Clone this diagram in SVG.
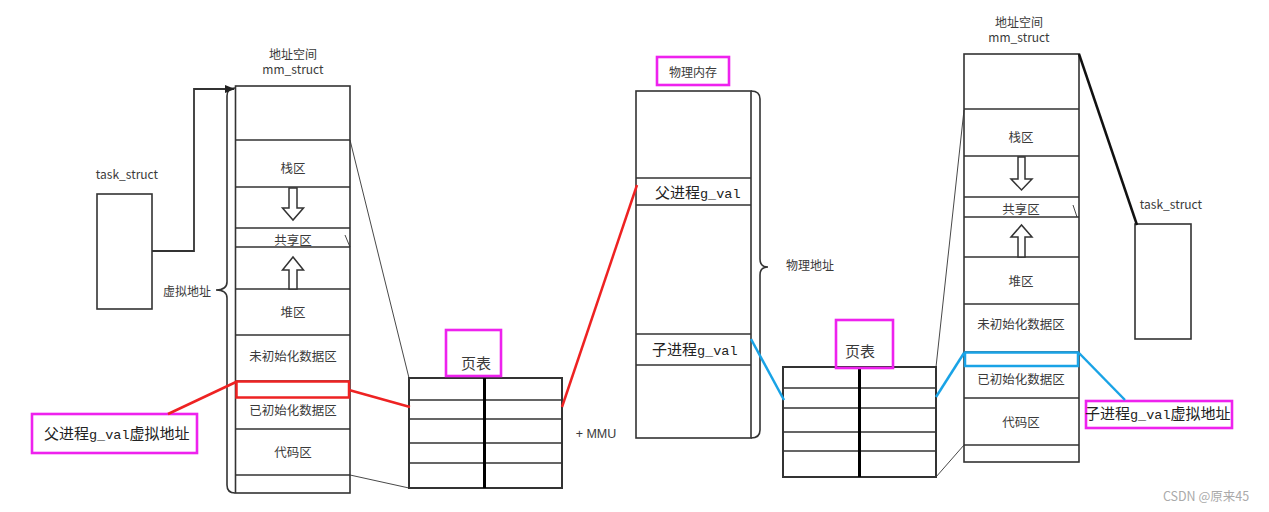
<svg xmlns="http://www.w3.org/2000/svg" width="1269" height="512" viewBox="0 0 1269 512">
<style>
text{font-family:"Noto Sans CJK SC","Liberation Sans",sans-serif;fill:#3a3a3a}
.lbl{font-size:12.5px;text-anchor:middle}
.sm{font-size:12px;text-anchor:middle}
.col{fill:#fff;stroke:#333;stroke-width:1.6}
.sep{stroke:#333;stroke-width:1.6;fill:none}
.pt{fill:#fff;stroke:#333;stroke-width:2}
.ptc{stroke:#000;stroke-width:3}
.harrow{fill:#fff;stroke:#333;stroke-width:1.5}
.mag{fill:none;stroke:#ee22ee;stroke-width:2.6}
.big{font-size:15px;fill:#222}
.mono{font-family:"Liberation Mono",monospace;font-size:13.5px}
.thin{stroke:#333;stroke-width:0.9;fill:none}
.red{stroke:#ee2222;stroke-width:2.5;fill:none}
.blue{stroke:#19a3e6;stroke-width:2.5;fill:none}
</style>
<defs>
<marker id="ah" markerWidth="10" markerHeight="8" refX="9" refY="4" orient="auto" markerUnits="userSpaceOnUse">
<path d="M0,0 L10,4 L0,8 z" fill="#222"/>
</marker>
</defs>
<rect width="1269" height="512" fill="#fff"/>

<g id="task-left">
<text class="sm" x="127" y="179">task_struct</text>
<rect x="97" y="194" width="55" height="115" class="col"/>
</g>

<g id="vm-left">
<text class="sm" x="293" y="59">地址空间</text>
<text class="sm" x="293" y="74">mm_struct</text>
<rect x="235.5" y="86" width="114.5" height="407" class="col"/>
<path class="sep" d="M235.5 140H350M235.5 187H350M235.5 228H350M235.5 247H350M235.5 289H350M235.5 335H350M235.5 381H350M235.5 429H350M235.5 475H350"/>
<text class="lbl" x="293" y="173">栈区</text>
<path class="harrow" d="M289 188V208H282.5L293 220L303.5 208H297V188Z"/>
<text class="lbl" x="293" y="245">共享区</text>
<path class="harrow" d="M289 289V270H282.5L293 257L303.5 270H297V289Z"/>
<text class="lbl" x="293" y="317">堆区</text>
<text class="lbl" x="293" y="361">未初始化数据区</text>
<text class="lbl" x="293" y="415">已初始化数据区</text>
<text class="lbl" x="293" y="457">代码区</text>
<rect x="236.5" y="381.5" width="112.5" height="16" fill="none" stroke="#ee2222" stroke-width="2.5"/>
<path d="M235 88Q227 88 227 96V282Q227 290 216 290Q227 290 227 298V485Q227 493 235 493" fill="none" stroke="#333" stroke-width="1.6"/>
<text class="sm" x="187" y="296">虚拟地址</text>
</g>

<g id="pt-left">
<rect x="409" y="378" width="153" height="110" class="pt"/>
<path class="sep" stroke-width="2" d="M409 400H562M409 419H562M409 443H562M409 463H562"/>
<line class="ptc" x1="484.5" y1="378" x2="484.5" y2="488"/>
<rect x="446" y="330" width="55" height="46" class="mag"/>
<text x="476" y="369" font-size="15" text-anchor="middle" fill="#222">页表</text>
<text x="596" y="438" font-size="12.5" text-anchor="middle" style="font-family:'Liberation Sans',sans-serif">+ MMU</text>
</g>

<g id="label-parent">
<rect x="32" y="414" width="165" height="39" class="mag"/>
<text x="44" y="439" class="big">父进程<tspan class="mono">g_val</tspan>虚拟地址</text>
</g>

<g id="phys-mem">
<rect x="657" y="57" width="72" height="28" class="mag"/>
<text class="sm" x="693" y="77">物理内存</text>
<rect x="636" y="91" width="115" height="347" class="col"/>
<path class="sep" stroke-width="1.2" d="M636 178H751M636 205H751M636 334H751M636 365H751"/>
<text x="655" y="198" class="big">父进程<tspan class="mono">g_val</tspan></text>
<text x="652" y="355" class="big">子进程<tspan class="mono">g_val</tspan></text>
<path d="M751 91Q760 91 760 99V259Q760 267 768 267Q760 267 760 275V430Q760 438 751 438" fill="none" stroke="#333" stroke-width="1.6"/>
<text class="sm" x="810" y="270">物理地址</text>
</g>

<g id="pt-right">
<rect x="783" y="367" width="153" height="110" class="pt"/>
<path class="sep" stroke-width="2" d="M783 388H936M783 408H936M783 432H936M783 451H936"/>
<line class="ptc" x1="859.5" y1="367" x2="859.5" y2="477"/>
<rect x="836" y="320" width="57" height="48" class="mag"/>
<text x="860" y="357" font-size="15" text-anchor="middle" fill="#222">页表</text>
</g>

<g id="vm-right">
<text class="sm" x="1019" y="27">地址空间</text>
<text class="sm" x="1019" y="42">mm_struct</text>
<rect x="964" y="54" width="115" height="408" class="col"/>
<path class="sep" d="M964 109H1079M964 156H1079M964 197H1079M964 217H1079M964 257H1079M964 304H1079M964 352H1079M964 398H1079M964 445H1079"/>
<text class="lbl" x="1021" y="142">栈区</text>
<path class="harrow" d="M1018 157V179H1011L1021.5 190L1032 179H1025V157Z"/>
<text class="lbl" x="1021" y="214">共享区</text>
<path class="harrow" d="M1018 257V237H1011L1021.5 225L1032 237H1025V257Z"/>
<text class="lbl" x="1021" y="286">堆区</text>
<text class="lbl" x="1021" y="329">未初始化数据区</text>
<text class="lbl" x="1021" y="384">已初始化数据区</text>
<text class="lbl" x="1021" y="427">代码区</text>
<rect x="965" y="352.5" width="113" height="13.5" fill="none" stroke="#19a3e6" stroke-width="2.5"/>
</g>

<g id="task-right">
<text class="sm" x="1171" y="209">task_struct</text>
<rect x="1135" y="224" width="56" height="115" class="col"/>
</g>

<g id="label-child">
<rect x="1086" y="401" width="146" height="27" class="mag"/>
<text x="1085" y="419" class="big">子进程<tspan class="mono">g_val</tspan>虚拟地址</text>
</g>

<g id="connectors">
<polyline points="152,251 194,251 194,89 234,89" fill="none" stroke="#333" stroke-width="1.8" marker-end="url(#ah)"/>
<line class="thin" x1="350" y1="140" x2="409" y2="378"/>
<line class="thin" x1="350" y1="475" x2="409" y2="488"/>
<line class="thin" x1="345" y1="235" x2="350" y2="247"/>
<line class="red" x1="168" y1="414" x2="236" y2="382"/>
<line class="red" x1="349" y1="390" x2="410" y2="407"/>
<line class="red" x1="562" y1="407" x2="637" y2="185"/>
<line class="blue" x1="751" y1="339" x2="784" y2="400"/>
<line class="blue" x1="936" y1="397" x2="964" y2="353"/>
<line class="blue" x1="1079" y1="353" x2="1125" y2="400"/>
<line class="thin" x1="964" y1="110" x2="936" y2="367"/>
<line class="thin" x1="964" y1="445" x2="936" y2="477"/>
<line class="thin" x1="1073" y1="205" x2="1077" y2="217"/>
<line x1="1079" y1="54" x2="1137" y2="225" stroke="#111" stroke-width="2.5"/>
</g>

<text x="1206" y="501" font-size="12.5" text-anchor="middle" style="fill:#aaa">CSDN @原来45</text>
</svg>
